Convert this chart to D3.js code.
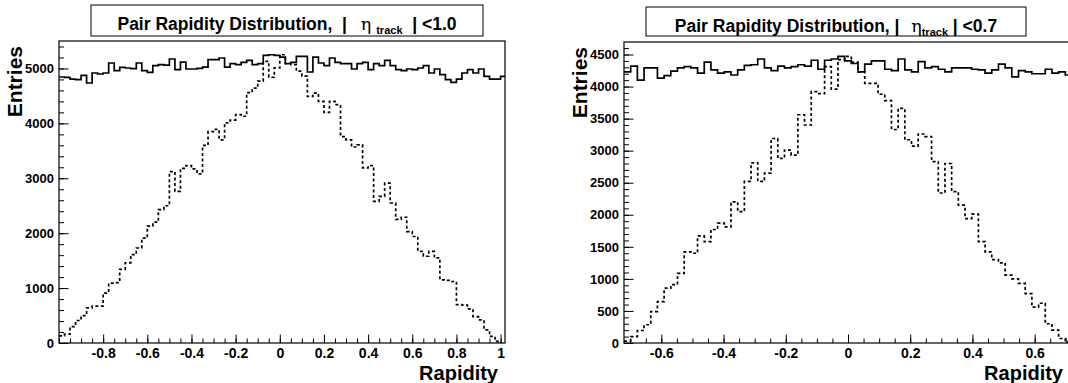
<!DOCTYPE html>
<html>
<head>
<meta charset="utf-8">
<script src="https://cdn.jsdelivr.net/npm/d3@7/dist/d3.min.js"></script>
<style>
  body { margin: 0; background: #fff; }
  svg text { font-family: "Liberation Sans", Arial, sans-serif; font-weight: bold; fill: #000; }
  svg text.title { white-space: pre; }
</style>
</head>
<body>
<div id="chart"></div>
<script>
// ---- data ----
// left pad: |eta_track| < 1.0, 81 bins of 0.025 starting at -1
const leftBinStart = -1.0;
const leftBinWidth = 0.025;
const leftAllPairs = [4844, 4838, 4807, 4795, 4874, 4735, 4917, 4899, 4917, 5099,
  4959, 5020, 5008, 4996, 5099, 4959, 4929, 5050, 5068, 5060,
  5172, 4977, 5117, 4990, 4990, 5002, 5026, 5160, 5160, 5190,
  5026, 5087, 5068, 5111, 5148, 5068, 5087, 5238, 5250, 5238,
  5208, 5087, 5111, 5220, 5220, 4935, 5208, 5099, 5050, 5190,
  5111, 5087, 5087, 4990, 5087, 5111, 4977, 5087, 5050, 5148,
  5050, 4977, 4959, 4990, 4977, 5008, 5050, 4917, 4990, 4886,
  4795, 4747, 4807, 4917, 4977, 4917, 4990, 4856, 4807, 4807, 4856];
const leftCutPairs = [130, 160, 300, 410, 500, 640, 670, 670, 910, 1090,
  1100, 1340, 1460, 1610, 1730, 1910, 2130, 2200, 2430, 2500,
  3120, 2760, 3180, 3230, 3170, 3080, 3600, 3850, 3890, 3700,
  4010, 4060, 4160, 4130, 4560, 4640, 4770, 5130, 4840, 5010,
  5250, 5090, 5070, 4950, 4860, 4490, 4550, 4400, 4200, 4400,
  4340, 3760, 3700, 3570, 3610, 3190, 3230, 2580, 2670, 2910,
  2550, 2250, 2290, 2030, 1940, 1670, 1580, 1670, 1550, 1150,
  1140, 1120, 700, 690, 620, 480, 420, 240, 120, 30, 0];

// right pad: |eta_track| < 0.7, 67 bins between -0.72 and 0.72
const rightBinStart = -0.72;
const rightBinWidth = 1.44 / 67;
const rightAllPairs = [4230, 4320, 4100, 4290, 4290, 4130, 4170, 4240, 4290, 4310,
  4290, 4210, 4380, 4260, 4210, 4230, 4180, 4260, 4330, 4340,
  4430, 4290, 4250, 4320, 4290, 4310, 4340, 4320, 4410, 4270,
  4410, 4430, 4470, 4400, 4360, 4230, 4350, 4400, 4400, 4270,
  4250, 4430, 4260, 4230, 4390, 4290, 4310, 4270, 4230, 4290,
  4290, 4290, 4270, 4260, 4210, 4260, 4350, 4290, 4150, 4250,
  4230, 4200, 4200, 4270, 4210, 4230, 4180];
const rightCutPairs = [30, 100, 195, 285, 490, 645, 855, 910, 1085, 1420,
  1400, 1670, 1580, 1770, 1870, 1810, 2200, 2050, 2520, 2810,
  2520, 2650, 3190, 2880, 3010, 2930, 3560, 3400, 3920, 3890,
  4310, 3960, 4420, 4470, 4380, 4230, 4050, 4050, 3880, 3780,
  3330, 3660, 3170, 3070, 3260, 3220, 2830, 2340, 2800, 2360,
  2150, 1940, 2010, 1580, 1420, 1300, 1250, 1060, 1000, 930,
  770, 560, 620, 300, 200, 70, 15];

// ticks
const leftXTicks = [-0.8, -0.6, -0.4, -0.2, 0, 0.2, 0.4, 0.6, 0.8, 1];
const rightXTicks = [-0.6, -0.4, -0.2, 0, 0.2, 0.4, 0.6];
const leftYTicks = [0, 1000, 2000, 3000, 4000, 5000];
const rightYTicks = [0, 500, 1000, 1500, 2000, 2500, 3000, 3500, 4000, 4500];

const width = 1068, height = 383;
const svg = d3.select("#chart").append("svg")
  .attr("width", width)
  .attr("height", height);

const fmt = d => d === 0 ? "0" : String(+d.toFixed(1));

function steps(values, start, w) {
  return values.flatMap((v, i) => [[start + i * w, v], [start + (i + 1) * w, v]]);
}

function drawPad(p) {
  const x = d3.scaleLinear().domain(p.xDomain).range([p.left, p.left + p.w]);
  const y = d3.scaleLinear().domain([0, p.yMax]).range([p.top + p.h, p.top]);

  const clipId = "clip" + p.id;
  svg.append("clipPath").attr("id", clipId)
    .append("rect")
    .attr("x", p.left).attr("y", p.top)
    .attr("width", p.w).attr("height", p.h);

  const line = d3.line()
    .x(d => x(d[0]))
    .y(d => y(d[1]));

  const g = svg.append("g").attr("clip-path", "url(#" + clipId + ")");
  g.append("path")
    .datum(steps(p.cut, p.binStart, p.binWidth))
    .attr("fill", "none")
    .attr("stroke", "#000")
    .attr("stroke-width", 1.7)
    .attr("stroke-dasharray", "3,2.5")
    .attr("d", line);
  g.append("path")
    .datum(steps(p.all, p.binStart, p.binWidth))
    .attr("fill", "none")
    .attr("stroke", "#000")
    .attr("stroke-width", 1.7)
    .attr("d", line);

  // minor ticks
  const xMinor = d3.range(Math.ceil(p.xDomain[0] / 0.05) * 0.05, p.xDomain[1] + 1e-9, 0.05);
  svg.append("g")
    .attr("transform", "translate(0," + (p.top + p.h) + ")")
    .call(d3.axisBottom(x).tickValues(xMinor).tickSize(-4.5).tickFormat(""))
    .call(a => a.select(".domain").remove());
  svg.append("g")
    .attr("transform", "translate(" + p.left + ",0)")
    .call(d3.axisLeft(y).tickValues(d3.range(0, p.yMax, p.yMinor)).tickSize(-5).tickFormat(""))
    .call(a => a.select(".domain").remove());

  // major ticks + labels
  const xAxis = svg.append("g")
    .attr("transform", "translate(0," + (p.top + p.h) + ")")
    .call(d3.axisBottom(x).tickValues(p.xTicks).tickSize(-8.5).tickPadding(5).tickFormat(fmt));
  xAxis.select(".domain").remove();
  xAxis.selectAll("text").attr("font-size", 14);

  const yAxis = svg.append("g")
    .attr("transform", "translate(" + p.left + ",0)")
    .call(d3.axisLeft(y).tickValues(p.yTicks).tickSize(-9.5).tickPadding(5).tickFormat(d3.format("d")));
  yAxis.select(".domain").remove();
  yAxis.selectAll("text").attr("font-size", 13);

  svg.selectAll(".tick line").attr("stroke", "#000");

  // frame
  svg.append("rect")
    .attr("x", p.left).attr("y", p.top)
    .attr("width", p.w).attr("height", p.h)
    .attr("fill", "none")
    .attr("stroke", "#000")
    .attr("stroke-width", 1.2);

  // axis titles
  svg.append("text")
    .attr("x", p.xTitleX).attr("y", 380)
    .attr("text-anchor", "end")
    .attr("font-size", 20)
    .text("Rapidity");
  svg.append("text")
    .attr("transform", "translate(" + p.yTitleX + "," + (p.top + 5) + ") rotate(-90)")
    .attr("text-anchor", "end")
    .attr("font-size", 21)
    .text("Entries");

  // title box
  svg.append("rect")
    .attr("x", p.box[0]).attr("y", p.box[1])
    .attr("width", p.box[2]).attr("height", p.box[3])
    .attr("fill", "#fff")
    .attr("stroke", "#000")
    .attr("stroke-width", 1);
  const t = svg.append("text")
    .attr("class", "title")
    .attr("x", p.box[0] + p.box[2] / 2)
    .attr("y", p.box[1] + 25)
    .attr("text-anchor", "middle")
    .attr("font-size", 17.5);
  t.append("tspan").text(p.title[0]);
  t.append("tspan").attr("font-family", "'DejaVu Serif', serif").attr("font-weight", "normal")
    .attr("dx", p.title[4]).text("\u03b7");
  t.append("tspan").attr("font-size", 11).attr("dy", 4).attr("dx", p.title[3]).text(p.title[1]);
  t.append("tspan").attr("dy", -4).text(p.title[2]);
}

drawPad({
  id: "L", left: 59, top: 41, w: 446, h: 302,
  xDomain: [-1, 1.02], yMax: 5500, yMinor: 200,
  binStart: leftBinStart, binWidth: leftBinWidth,
  all: leftAllPairs, cut: leftCutPairs,
  xTicks: leftXTicks, yTicks: leftYTicks,
  xTitleX: 498, yTitleX: 22,
  box: [91, 5, 392, 31],
  title: ["Pair Rapidity Distribution,  |  ", "track", "  | <1.0", 5, 4]
});

drawPad({
  id: "R", left: 624, top: 42, w: 448, h: 301,
  xDomain: [-0.72, 0.72], yMax: 4695, yMinor: 100,
  binStart: rightBinStart, binWidth: rightBinWidth,
  all: rightAllPairs, cut: rightCutPairs,
  xTicks: rightXTicks, yTicks: rightYTicks,
  xTitleX: 1063, yTitleX: 587,
  box: [646, 7, 380, 29],
  title: ["Pair Rapidity Distribution, |  ", "track", " | <0.7", 0, 2]
});
</script>
</body>
</html>
